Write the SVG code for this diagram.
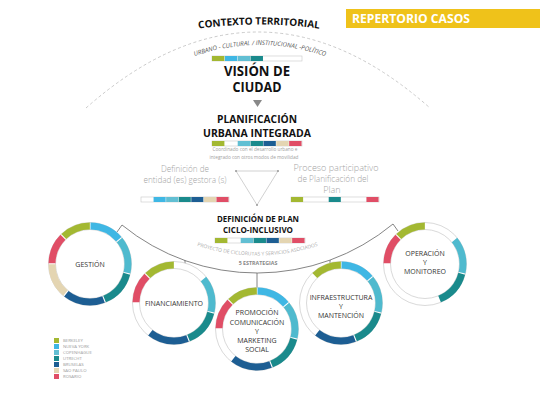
<svg xmlns="http://www.w3.org/2000/svg" width="540" height="400" viewBox="0 0 540 400">
<defs>
<style>
text{font-family:"Open Sans","Liberation Sans",sans-serif}
.b{font-weight:bold;fill:#111}
.gl{fill:#a4a4a4;font-size:9px;font-weight:300}
.lbl{fill:#333;font-size:7px;text-anchor:middle}
.leg{fill:#9a9a9a;font-size:4.3px}
.bg{fill:#fff;stroke:#c8c8c8;stroke-width:0.6}
.c-gr{fill:#a3b832}.c-lb{fill:#3fb7e4}.c-cy{fill:#62bfd3}.c-te{fill:#1a8a8c}.c-db{fill:#1d5e93}.c-be{fill:#e4d5b2}.c-re{fill:#e04e66}
.ring{fill:#fff;stroke:#c8c8c8;stroke-width:0.7}
.seg{fill:none;stroke-width:7}
.s-lb{stroke:#3fb7e4;stroke-dasharray:32.10 300;stroke-dashoffset:-0.53}
.s-cy{stroke:#4fbace;stroke-dasharray:34.75 300;stroke-dashoffset:-33.69}
.s-te{stroke:#1a8a8c;stroke-dasharray:34.75 300;stroke-dashoffset:-69.51}
.s-db{stroke:#1d5e93;stroke-dasharray:39.40 300;stroke-dashoffset:-105.32}
.s-be{stroke:#e4d5b2;stroke-dasharray:32.76 300;stroke-dashoffset:-145.78}
.s-re{stroke:#e04e66;stroke-dasharray:28.78 300;stroke-dashoffset:-179.60}
.s-gr{stroke:#a3b832;stroke-dasharray:28.78 300;stroke-dashoffset:-209.45}
.conn{fill:none;stroke:#666;stroke-width:0.8}
</style>
<path id="ctxPath" d="M 196 29 Q 259 20 322 29"/>
<path id="urbPath" d="M 184 60 Q 259 30 336 60"/>
<path id="proyPath" d="M 192 244 Q 257 267 323 244"/>
</defs>
<rect width="540" height="400" fill="#fff"/>

<g id="repertorio">
<rect x="346" y="9" width="194" height="19" fill="#efc21a"/>
<text x="352" y="22.5" font-size="12.5" font-weight="bold" fill="#fff" textLength="118" lengthAdjust="spacingAndGlyphs">REPERTORIO CASOS</text>
</g>

<g id="contexto">
<path d="M 86 108 Q 258 -44 430 108" fill="none" stroke="#bdbdbd" stroke-width="0.8" stroke-dasharray="3 2.5"/>
<text class="b" font-size="10"><textPath href="#ctxPath" startOffset="50%" text-anchor="middle">CONTEXTO TERRITORIAL</textPath></text>
<text font-size="6.2" font-style="italic" fill="#555"><textPath href="#urbPath" startOffset="50%" text-anchor="middle">URBANO - CULTURAL / INSTITUCIONAL -POLÍTICO</textPath></text>
</g>

<g id="vision">
<rect class="bg" x="212" y="56" width="90" height="5"/>
<rect class="c-gr" x="212" y="56" width="12.4" height="5"/>
<rect class="c-lb" x="224.86" y="56" width="12.4" height="5"/>
<rect class="c-cy" x="237.71" y="56" width="12.4" height="5"/>
<rect class="c-te" x="250.57" y="56" width="12.4" height="5"/>
<text class="b" x="257" y="76" font-size="14" text-anchor="middle" textLength="66" lengthAdjust="spacingAndGlyphs">VISIÓN DE</text>
<text class="b" x="257" y="92" font-size="14" text-anchor="middle" textLength="49" lengthAdjust="spacingAndGlyphs">CIUDAD</text>
<polygon points="253,100 262,100 257.5,107" fill="#888"/>
</g>

<g id="planificacion">
<text class="b" x="257" y="123" font-size="11" text-anchor="middle" textLength="80" lengthAdjust="spacingAndGlyphs">PLANIFICACIÓN</text>
<text class="b" x="257" y="137" font-size="11" text-anchor="middle" textLength="108" lengthAdjust="spacingAndGlyphs">URBANA INTEGRADA</text>
<rect class="bg" x="212" y="141" width="90" height="5"/>
<rect class="c-gr" x="212" y="141" width="12.4" height="5"/>
<rect class="c-cy" x="237.71" y="141" width="12.4" height="5"/>
<rect class="c-te" x="250.57" y="141" width="12.4" height="5"/>
<rect class="c-db" x="263.43" y="141" width="12.4" height="5"/>
<rect class="c-be" x="276.29" y="141" width="12.4" height="5"/>
<rect class="c-re" x="289.14" y="141" width="12.4" height="5"/>
<text x="255" y="151" font-size="4.8" fill="#a0a0a0" text-anchor="middle" textLength="85" lengthAdjust="spacingAndGlyphs">Coordinado con el desarrollo urbano e</text>
<text x="254" y="158.5" font-size="4.8" fill="#a0a0a0" text-anchor="middle" textLength="89" lengthAdjust="spacingAndGlyphs">integrado con otros modos de movilidad</text>
</g>

<g id="entidad">
<text class="gl" x="185" y="172" text-anchor="middle" textLength="48" lengthAdjust="spacingAndGlyphs">Definición de</text>
<text class="gl" x="185" y="183" text-anchor="middle" textLength="83" lengthAdjust="spacingAndGlyphs">entidad (es) gestora (s)</text>
<rect class="bg" x="141" y="197" width="88" height="5"/>
<rect class="c-lb" x="153.57" y="197" width="12.1" height="5"/>
<rect class="c-cy" x="166.14" y="197" width="12.1" height="5"/>
<rect class="c-te" x="178.71" y="197" width="12.1" height="5"/>
<rect class="c-db" x="191.29" y="197" width="12.1" height="5"/>
<rect class="c-be" x="203.86" y="197" width="12.1" height="5"/>
<rect class="c-re" x="216.43" y="197" width="12.1" height="5"/>
</g>

<g id="proceso">
<text class="gl" x="336" y="171" text-anchor="middle" textLength="85" lengthAdjust="spacingAndGlyphs">Proceso participativo</text>
<text class="gl" x="333" y="182" text-anchor="middle" textLength="71" lengthAdjust="spacingAndGlyphs">de Planificación del</text>
<text class="gl" x="332" y="193" text-anchor="middle">Plan</text>
<rect class="bg" x="291" y="197" width="88" height="5"/>
<rect class="c-gr" x="291" y="197" width="12.1" height="5"/>
<rect class="c-te" x="328.71" y="197" width="12.1" height="5"/>
<rect class="c-re" x="366.43" y="197" width="12.1" height="5"/>
</g>

<g id="triangulo">
<polygon points="236,171 278,171 257,205" fill="none" stroke="#bdbdbd" stroke-width="0.7"/>
<circle cx="236" cy="171" r="1" fill="#999"/>
<circle cx="278" cy="171" r="1" fill="#999"/>
<circle cx="257" cy="205" r="1" fill="#999"/>
</g>

<g id="definicion-plan">
<text class="b" x="258" y="222" font-size="9" text-anchor="middle" textLength="82" lengthAdjust="spacingAndGlyphs">DEFINICIÓN DE PLAN</text>
<text class="b" x="258" y="233" font-size="9" text-anchor="middle" textLength="70" lengthAdjust="spacingAndGlyphs">CICLO-INCLUSIVO</text>
<rect class="bg" x="215" y="238" width="90" height="5"/>
<rect class="c-gr" x="215" y="238" width="12.4" height="5"/>
<rect class="c-cy" x="240.71" y="238" width="12.4" height="5"/>
<rect class="c-te" x="253.57" y="238" width="12.4" height="5"/>
<rect class="c-db" x="266.43" y="238" width="12.4" height="5"/>
<rect class="c-be" x="279.29" y="238" width="12.4" height="5"/>
<rect class="c-re" x="292.14" y="238" width="12.4" height="5"/>
<text font-size="5" fill="#aaa"><textPath href="#proyPath" startOffset="50%" text-anchor="middle">PROYECTO DE CICLORUTAS Y SERVICIOS ASOCIADOS</textPath></text>
<text x="258" y="265" font-size="5.3" font-weight="bold" fill="#888" text-anchor="middle">5 ESTRATEGIAS</text>
</g>

<g id="connectors">
<path class="conn" d="M 117 232 L 122 225 A 213.5 213.5 0 0 0 393 224 L 398 231"/>
<line class="conn" x1="185" y1="260" x2="185" y2="264"/>
<line class="conn" x1="257" y1="273" x2="257" y2="288"/>
<line class="conn" x1="330" y1="260" x2="330" y2="264"/>
</g>

<g id="gestion" transform="translate(90 264)">
<circle class="ring" r="41.5"/><circle class="ring" r="34.5"/>
<g transform="rotate(-90)">
<circle class="seg s-lb" r="38"/><circle class="seg s-cy" r="38"/><circle class="seg s-te" r="38"/><circle class="seg s-db" r="38"/><circle class="seg s-be" r="38"/><circle class="seg s-re" r="38"/><circle class="seg s-gr" r="38"/>
</g>
<text class="lbl" x="0" y="2.5">GESTIÓN</text>
</g>

<g id="financiamiento" transform="translate(174 303)">
<circle class="ring" r="41.5"/><circle class="ring" r="34.5"/>
<g transform="rotate(-90)">
<circle class="seg s-cy" r="38"/><circle class="seg s-te" r="38"/><circle class="seg s-db" r="38"/><circle class="seg s-re" r="38"/><circle class="seg s-gr" r="38"/>
</g>
<text class="lbl" x="0" y="2.5">FINANCIAMIENTO</text>
</g>

<g id="promocion" transform="translate(257 329)">
<circle class="ring" r="41.5"/><circle class="ring" r="34.5"/>
<g transform="rotate(-90)">
<circle class="seg s-lb" r="38"/><circle class="seg s-cy" r="38"/><circle class="seg s-te" r="38"/><circle class="seg s-db" r="38"/><circle class="seg s-re" r="38"/><circle class="seg s-gr" r="38"/>
</g>
<text class="lbl" x="0" y="-14">PROMOCIÓN</text>
<text class="lbl" x="0" y="-4.5">COMUNICACIÓN</text>
<text class="lbl" x="0" y="4.5">Y</text>
<text class="lbl" x="0" y="14">MARKETING</text>
<text class="lbl" x="0" y="23">SOCIAL</text>
</g>

<g id="infraestructura" transform="translate(341 303)">
<circle class="ring" r="41.5"/><circle class="ring" r="34.5"/>
<g transform="rotate(-90)">
<circle class="seg s-gr" r="38"/><circle class="seg s-lb" r="38"/><circle class="seg s-cy" r="38"/><circle class="seg s-te" r="38"/><circle class="seg s-db" r="38"/>
</g>
<text class="lbl" x="0" y="-3">INFRAESTRUCTURA</text>
<text class="lbl" x="0" y="6">Y</text>
<text class="lbl" x="0" y="15">MANTENCIÓN</text>
</g>

<g id="operacion" transform="translate(425 264)">
<circle class="ring" r="41.5"/><circle class="ring" r="34.5"/>
<g transform="rotate(-90)">
<circle class="seg s-gr" r="38"/><circle class="seg s-cy" r="38"/><circle class="seg s-te" r="38"/><circle class="seg s-re" r="38"/>
</g>
<text class="lbl" x="0" y="-8">OPERACIÓN</text>
<text class="lbl" x="0" y="1">Y</text>
<text class="lbl" x="0" y="10">MONITOREO</text>
</g>

<g id="leyenda">
<rect class="c-gr" x="54" y="338" width="5" height="5"/><text class="leg" x="63" y="342.3">BERKELEY</text>
<rect class="c-lb" x="54" y="344" width="5" height="5"/><text class="leg" x="63" y="348.3">NUEVA YORK</text>
<rect class="c-cy" x="54" y="350" width="5" height="5"/><text class="leg" x="63" y="354.3">COPENHAGUE</text>
<rect class="c-te" x="54" y="356" width="5" height="5"/><text class="leg" x="63" y="360.3">UTRECHT</text>
<rect class="c-db" x="54" y="362" width="5" height="5"/><text class="leg" x="63" y="366.3">BRUSELAS</text>
<rect class="c-be" x="54" y="368" width="5" height="5"/><text class="leg" x="63" y="372.3">SAO PAULO</text>
<rect class="c-re" x="54" y="374" width="5" height="5"/><text class="leg" x="63" y="378.3">ROSARIO</text>
</g>
</svg>
